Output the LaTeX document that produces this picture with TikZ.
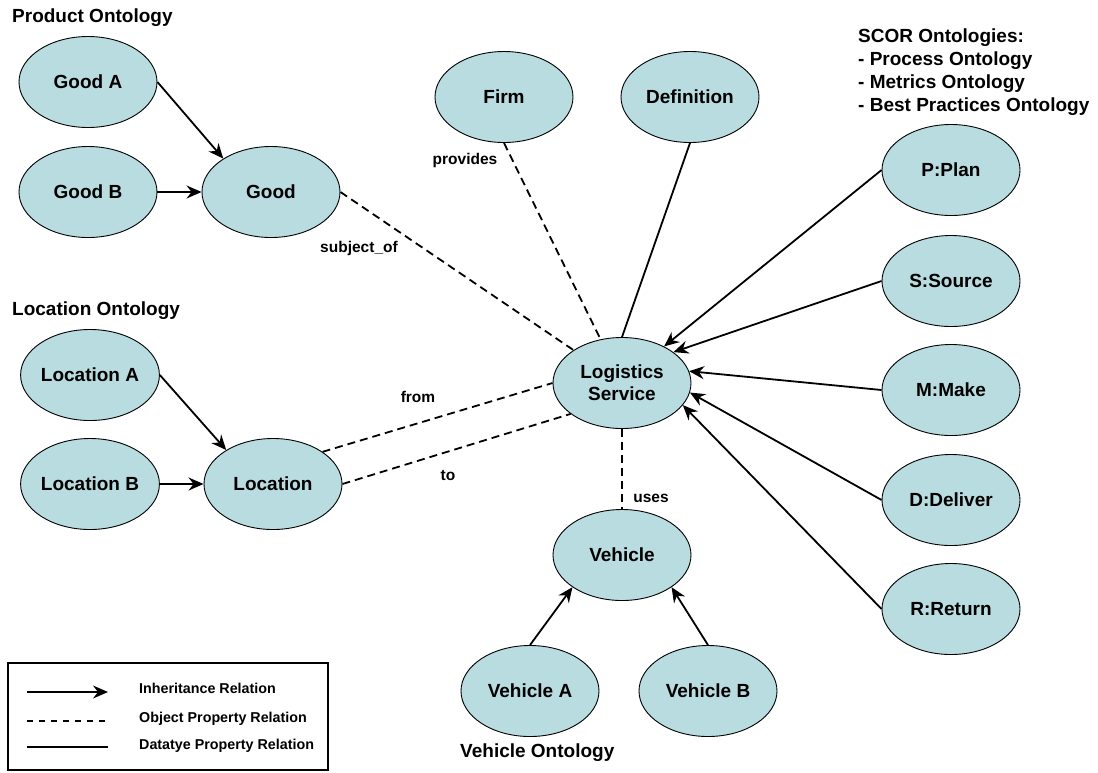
\documentclass[tikz,border=0pt]{standalone}
\usepackage{fontspec}
\setmainfont{Liberation Sans}
\usetikzlibrary{shapes.geometric,arrows.meta}
\definecolor{conceptfill}{RGB}{184,220,224}
\begin{document}
\begin{tikzpicture}[x=1pt,y=-1pt,
  concept/.style={ellipse,draw=black,line width=0.9pt,fill=conceptfill,
    minimum width=138pt,minimum height=91pt,inner sep=0pt,
    font=\fontsize{19}{22}\selectfont\bfseries,align=center},
  heading/.style={anchor=west,inner sep=0pt,font=\fontsize{19}{22.7}\selectfont\bfseries,align=left},
  rel/.style={inner sep=0pt,font=\fontsize{15.5}{18}\selectfont\bfseries},
  legtext/.style={anchor=west,inner sep=0pt,font=\fontsize{14.3}{17}\selectfont\bfseries},
  isa/.style={line width=1.8pt,-{Stealth[length=15pt,width=13pt,inset=5pt]}},
  objprop/.style={line width=1.8pt,dash pattern=on 8pt off 5pt},
  dataprop/.style={line width=1.8pt}]
\useasboundingbox (0,0) rectangle (1098,772);

% group headings
\node[heading] (hprod) at (12,18) {Product Ontology};
\node[heading] (hloc) at (12,311) {Location Ontology};
\node[heading] (hveh) at (460,753) {Vehicle Ontology};
\node[heading,anchor=north west] (hscor) at (858,29) {SCOR Ontologies:\\- Process Ontology\\- Metrics Ontology\\- Best Practices Ontology};

% concepts
\node[concept] (gooda) at (88,82) {Good A};
\node[concept] (goodb) at (88,192) {Good B};
\node[concept] (good) at (271,192) {Good};
\node[concept] (loca) at (90,375) {Location A};
\node[concept] (locb) at (90,484) {Location B};
\node[concept] (loc) at (273,484) {Location};
\node[concept] (firm) at (504,97) {Firm};
\node[concept] (defn) at (690,97) {Definition};
\node[concept] (ls) at (622,383) {Logistics\\Service};
\node[concept] (veh) at (622,555) {Vehicle};
\node[concept] (veha) at (530,691) {Vehicle A};
\node[concept] (vehb) at (708,691) {Vehicle B};
\node[concept] (plan) at (951,170) {P:Plan};
\node[concept] (source) at (951,281) {S:Source};
\node[concept] (make) at (951,390) {M:Make};
\node[concept] (deliver) at (951,500) {D:Deliver};
\node[concept] (return) at (951,609) {R:Return};

% inheritance
\draw[isa] (gooda.east) -- (good.145);
\draw[isa] (goodb.east) -- (good.west);
\draw[isa] (loca.east) -- (loc.144);
\draw[isa] (locb.east) -- (loc.west);
\draw[isa] (veha.north) -- (veh.213);
\draw[isa] (vehb.north) -- (veh.327);
\draw[isa] (plan.west) -- (ls.41.6);
\draw[isa] (source.west) -- (ls.31);
\draw[isa] (make.west) -- (ls.10.5);
\draw[isa] (deliver.west) -- (ls.-8);
\draw[isa] (return.west) -- (ls.-20);

% object properties
\draw[objprop] (good.east) -- (ls);
\draw[objprop] (firm.south) -- (ls);
\draw[objprop] (loc.33) -- (ls.west);
\draw[objprop] (loc.east) -- (ls.211);
\draw[objprop] (ls.south) -- (veh.north);

% datatype property
\draw[dataprop] (defn.south) -- (ls.north);

% relation labels
\node[rel] (lprov) at (465,160) {provides};
\node[rel] (lsubj) at (359,248) {subject\_of};
\node[rel] (lfrom) at (418,397) {from};
\node[rel] (lto) at (448,476) {to};
\node[rel] (luses) at (651,498) {uses};

% legend
\node[draw=black,line width=1.6pt,minimum width=320pt,minimum height=107pt,inner sep=0pt] (legend) at (168,716.5) {};
\coordinate (la1) at (27,692);
\coordinate (la2) at (108,692);
\coordinate (lb1) at (27,721);
\coordinate (lb2) at (108,721);
\coordinate (lc1) at (27,747);
\coordinate (lc2) at (108,747);
\draw[isa] (la1) -- (la2);
\draw[objprop,line width=1.4pt,dash pattern=on 6pt off 6pt] (lb1) -- (lb2);
\draw[dataprop,line width=1.4pt] (lc1) -- (lc2);
\node[legtext] (ta) at (139,688) {Inheritance Relation};
\node[legtext] (tb) at (139,719) {Object Property Relation};
\node[legtext] (tc) at (139,746) {Datatye Property Relation};
\end{tikzpicture}
\end{document}
